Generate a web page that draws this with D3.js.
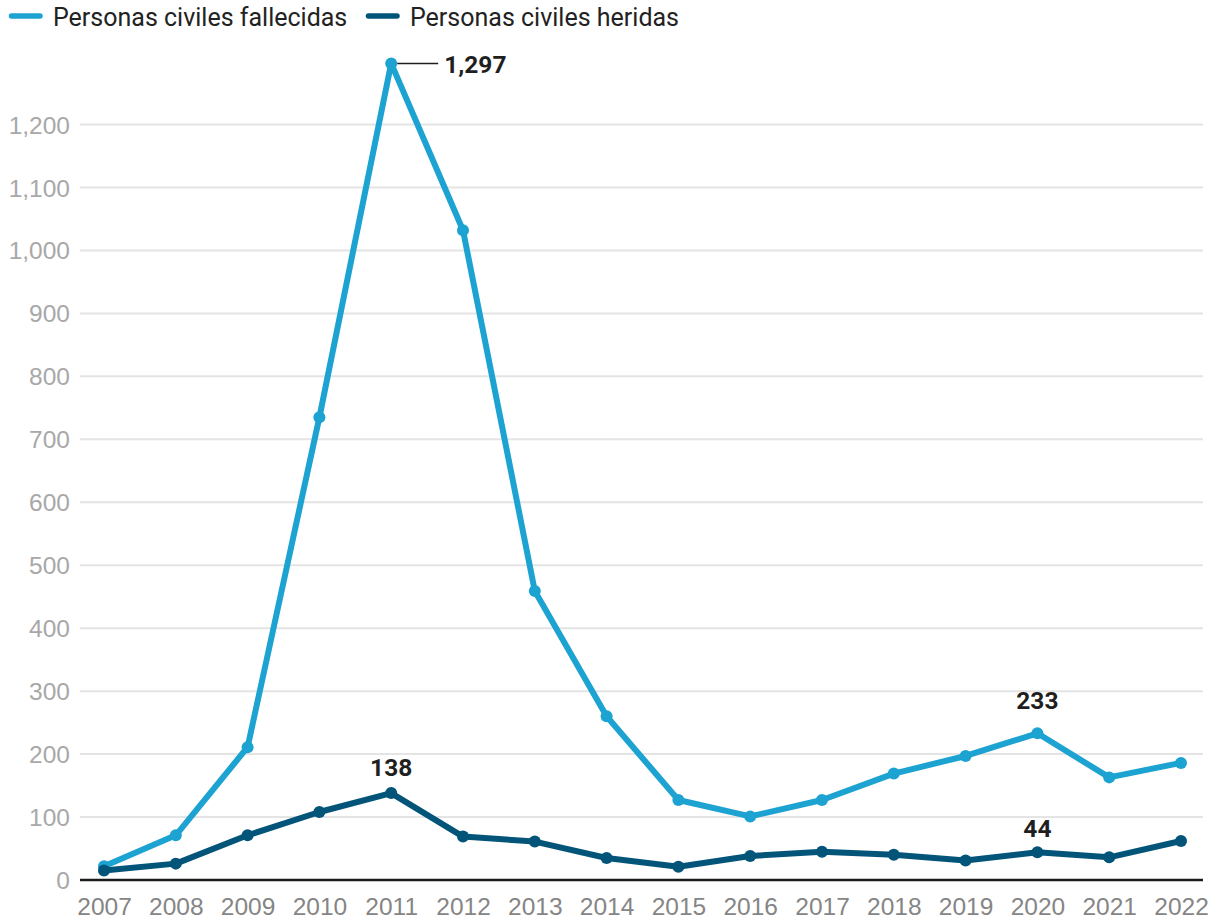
<!DOCTYPE html>
<html>
<head>
<meta charset="utf-8">
<script src="https://cdn.jsdelivr.net/npm/d3@7"></script>
<style>
  html, body { margin: 0; padding: 0; background: #fff; }
  svg { display: block; font-family: Roboto, "Noto Sans", sans-serif; }
</style>
</head>
<body>
<svg id="chart" width="1217" height="921"></svg>
<script>
// Civilian casualties per year
const years = [2007, 2008, 2009, 2010, 2011, 2012, 2013, 2014, 2015, 2016, 2017, 2018, 2019, 2020, 2021, 2022];
const fallecidas = [22, 71, 211, 735, 1297, 1032, 459, 260, 127, 101, 127, 169, 197, 233, 163, 186];
const heridas = [15, 26, 71, 108, 138, 69, 61, 35, 21, 38, 45, 40, 31, 44, 36, 62];
const yTicks = [0, 100, 200, 300, 400, 500, 600, 700, 800, 900, 1000, 1100, 1200];
const seriesNames = ["Personas civiles fallecidas", "Personas civiles heridas"];
const seriesColors = ["#1da3d1", "#035479"];

const svg = d3.select("#chart");
const plotLeft = 80, plotRight = 1203;

const x = d3.scalePoint().domain(years).range([104, 1181]);
const y = d3.scaleLinear().domain([0, 1200]).range([880, 124.5]);

// gridlines + y labels
const yAxis = d3.axisLeft(y).tickValues(yTicks).tickFormat(d3.format(",")).tickSize(0).tickPadding(0);
const gy = svg.append("g").attr("transform", `translate(70,0)`).call(yAxis);
gy.select(".domain").remove();
gy.selectAll("text")
  .attr("fill", "#a8a8a8")
  .style("font-size", "24.5px")
  .attr("dy", "0.35em");

svg.append("g")
  .selectAll("line")
  .data(yTicks.filter(d => d !== 0))
  .join("line")
  .attr("x1", plotLeft).attr("x2", plotRight)
  .attr("y1", d => y(d)).attr("y2", d => y(d))
  .attr("stroke", "#e4e4e4")
  .attr("stroke-width", 2);

// x axis
const xAxis = d3.axisBottom(x).tickSize(0).tickPadding(0);
const gx = svg.append("g").attr("transform", `translate(0,${y(0)})`).call(xAxis);
gx.select(".domain").remove();
gx.selectAll("text")
  .attr("fill", "#858585")
  .style("font-size", "24.5px")
  .attr("y", 18)
  .attr("dy", "0.71em");

svg.append("line")
  .attr("x1", plotLeft).attr("x2", plotRight)
  .attr("y1", y(0)).attr("y2", y(0))
  .attr("stroke", "#1a1a1a")
  .attr("stroke-width", 2.5);

// series
const series = [fallecidas, heridas];
const line = d3.line().x((d, i) => x(years[i])).y(d => y(d));

series.forEach((vals, si) => {
  const g = svg.append("g");
  g.append("path")
    .datum(vals)
    .attr("d", line)
    .attr("fill", "none")
    .attr("stroke", seriesColors[si])
    .attr("stroke-width", 6)
    .attr("stroke-linejoin", "round");
  g.selectAll("circle")
    .data(vals)
    .join("circle")
    .attr("cx", (d, i) => x(years[i]))
    .attr("cy", d => y(d))
    .attr("r", 6)
    .attr("fill", seriesColors[si]);
});

// value labels
const labelStyle = sel => sel
  .attr("fill", "#1f1f1f")
  .style("font-size", "24.5px")
  .style("font-weight", "700");

const iPeak = years.indexOf(2011);
svg.append("line")
  .attr("x1", x(2011) + 6).attr("x2", x(2011) + 47)
  .attr("y1", y(fallecidas[iPeak])).attr("y2", y(fallecidas[iPeak]))
  .attr("stroke", "#1f1f1f").attr("stroke-width", 1.5);
svg.append("text")
  .attr("x", x(2011) + 53)
  .attr("y", y(fallecidas[iPeak]) + 1)
  .attr("dy", "0.35em")
  .text(d3.format(",")(fallecidas[iPeak]))
  .call(labelStyle);

const centered = [
  { year: 2011, vals: heridas, off: 17 },
  { year: 2020, vals: fallecidas, off: 24 },
  { year: 2020, vals: heridas, off: 15 }
];
centered.forEach(c => {
  const v = c.vals[years.indexOf(c.year)];
  svg.append("text")
    .attr("x", x(c.year))
    .attr("y", y(v) - c.off)
    .attr("text-anchor", "middle")
    .text(d3.format(",")(v))
    .call(labelStyle);
});

// legend
const legend = svg.append("g");
const legendX = [9, 366];
seriesNames.forEach((name, i) => {
  legend.append("line")
    .attr("x1", legendX[i] + 2.5).attr("x2", legendX[i] + 31)
    .attr("y1", 16).attr("y2", 16)
    .attr("stroke", seriesColors[i])
    .attr("stroke-width", 5.5)
    .attr("stroke-linecap", "round");
  legend.append("text")
    .attr("x", legendX[i] + 44)
    .attr("y", 17)
    .attr("dy", "0.35em")
    .attr("fill", "#222")
    .style("font-size", "25px")
    .text(name);
});
</script>
</body>
</html>
